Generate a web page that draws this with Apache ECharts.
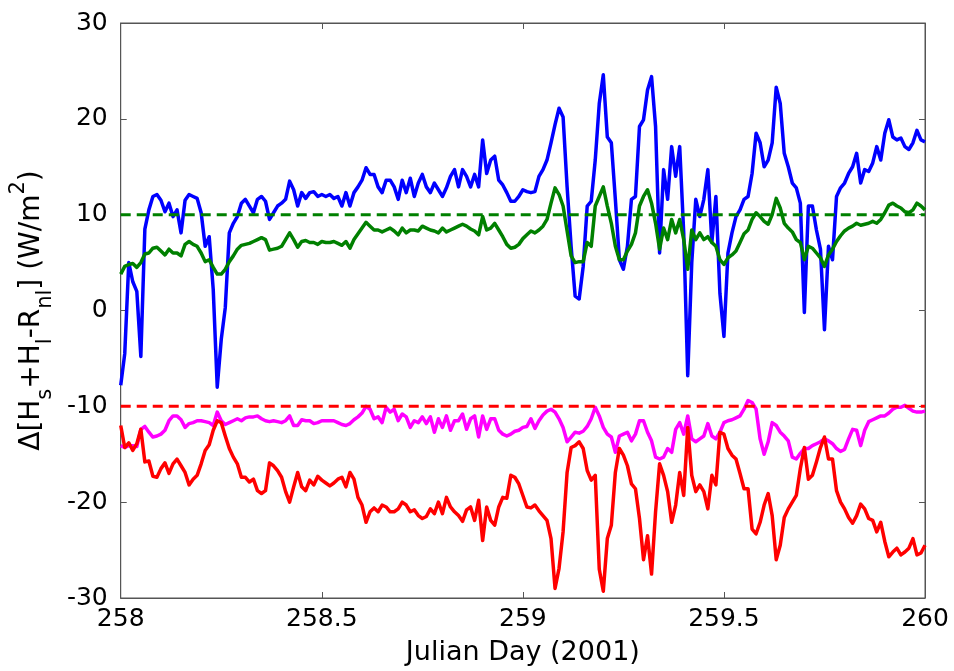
<!DOCTYPE html>
<html>
<head>
<meta charset="utf-8">
<script src="https://cdn.jsdelivr.net/npm/echarts@6/dist/echarts.min.js"></script>
<style>
html,body{margin:0;padding:0;background:#fff;}
#chart{width:954px;height:671px;}
</style>
</head>
<body>
<div id="chart"></div>
<script>
// Julian day sample positions
const days = [
258.00,258.01,258.02,258.03,258.04,258.05,258.06,258.07,258.08,258.09,
258.10,258.11,258.12,258.13,258.14,258.15,258.16,258.17,258.18,258.19,
258.20,258.21,258.22,258.23,258.24,258.25,258.26,258.27,258.28,258.29,
258.30,258.31,258.32,258.33,258.34,258.35,258.36,258.37,258.38,258.39,
258.40,258.41,258.42,258.43,258.44,258.45,258.46,258.47,258.48,258.49,
258.50,258.51,258.52,258.53,258.54,258.55,258.56,258.57,258.58,258.59,
258.60,258.61,258.62,258.63,258.64,258.65,258.66,258.67,258.68,258.69,
258.70,258.71,258.72,258.73,258.74,258.75,258.76,258.77,258.78,258.79,
258.80,258.81,258.82,258.83,258.84,258.85,258.86,258.87,258.88,258.89,
258.90,258.91,258.92,258.93,258.94,258.95,258.96,258.97,258.98,258.99,
259.00,
259.01,259.02,259.03,259.04,259.05,259.06,259.07,259.08,259.09,259.10,
259.11,259.12,259.13,259.14,259.15,259.16,259.17,259.18,259.19,259.20,
259.21,259.22,259.23,259.24,259.25,259.26,259.27,259.28,259.29,259.30,
259.31,259.32,259.33,259.34,259.35,259.36,259.37,259.38,259.39,259.40,
259.41,259.42,259.43,259.44,259.45,259.46,259.47,259.48,259.49,259.50,
259.51,259.52,259.53,259.54,259.55,259.56,259.57,259.58,259.59,259.60,
259.61,259.62,259.63,259.64,259.65,259.66,259.67,259.68,259.69,259.70,
259.71,259.72,259.73,259.74,259.75,259.76,259.77,259.78,259.79,259.80,
259.81,259.82,259.83,259.84,259.85,259.86,259.87,259.88,259.89,259.90,
259.91,259.92,259.93,259.94,259.95,259.96,259.97,259.98,259.99,260.00
];

// blue series
const blueVals = [
-7.8,-4.5,5.0,3.0,2.0,-4.8,8.5,10.5,11.9,12.1,
11.5,10.3,11.2,9.8,10.5,8.1,11.5,12.1,11.9,11.7,
10.2,6.7,7.7,2.2,-8.0,-3.0,0.3,8.1,9.1,9.8,
11.2,11.6,10.9,10.2,11.6,11.9,11.4,9.5,10.2,10.9,
11.2,11.6,13.5,12.6,10.9,12.3,11.7,12.3,12.4,11.9,
12.1,11.9,12.1,11.7,11.9,10.9,12.3,10.9,12.3,12.9,
13.6,14.9,14.2,14.2,12.9,12.3,13.6,13.6,12.9,11.6,
13.6,12.3,13.8,11.9,13.3,14.2,12.9,12.3,13.3,12.6,
11.9,12.8,14.0,14.7,12.9,14.7,14.0,12.9,14.2,12.9,
17.8,14.3,15.7,16.1,13.6,13.1,12.3,11.4,11.4,11.9,
12.6,
12.4,12.3,12.4,14.0,14.7,15.7,17.5,19.4,21.1,20.2,
12.9,6.7,1.5,1.2,4.6,10.9,11.4,15.7,21.6,24.6,
18.1,17.5,11.6,5.3,4.3,6.7,11.6,11.9,19.2,19.9,
23.0,24.4,19.2,6.0,14.7,11.6,17.1,14.0,17.1,8.1,
-6.8,5.0,11.6,9.8,11.6,14.7,7.1,11.9,1.8,-2.7,
6.0,8.1,9.8,10.5,11.6,11.9,14.3,18.5,17.5,15.0,
15.7,17.5,23.3,21.6,16.4,15.0,13.3,12.8,11.2,-0.2,
10.9,10.9,8.4,6.4,-2.0,6.7,5.3,11.9,12.8,13.3,
14.3,15.0,16.4,13.3,14.7,14.5,15.4,17.1,15.7,18.5,
19.9,18.1,17.8,18.0,17.1,16.8,17.5,18.8,17.8,17.6
];

// green series
const greenVals = [
3.8,4.6,4.8,4.9,4.5,5.0,5.9,6.0,6.5,6.6,
6.2,5.8,6.4,6.0,6.0,5.7,6.9,7.2,6.9,6.7,
6.0,5.1,5.3,4.5,3.8,3.8,4.3,5.1,5.7,6.4,
6.8,6.9,7.0,7.2,7.4,7.6,7.4,6.3,6.4,6.5,
6.7,7.4,8.1,7.4,6.6,7.2,7.3,7.1,7.1,6.9,
7.2,7.1,7.1,7.2,7.0,6.8,7.2,6.5,7.4,8.0,
8.6,9.2,8.8,8.4,8.4,8.2,8.4,8.6,8.3,7.9,
8.6,8.1,8.4,8.4,8.3,8.8,8.6,8.4,8.3,8.1,
8.6,8.2,8.4,8.6,8.8,9.0,8.8,8.5,8.3,7.9,
9.8,8.4,8.6,9.1,8.4,7.7,6.9,6.5,6.6,6.9,
7.5,
7.9,8.3,8.1,8.4,8.8,9.5,11.2,12.8,12.1,10.9,
8.3,5.7,5.0,5.1,5.1,7.1,6.7,10.9,11.9,12.9,
10.9,9.1,6.7,5.3,5.3,6.2,6.9,8.1,10.9,11.9,
12.6,11.2,9.1,6.4,8.6,7.4,9.5,8.1,9.5,7.4,
4.3,8.4,7.4,8.1,7.4,7.7,7.1,6.7,5.3,4.8,
5.5,5.8,6.2,7.1,8.0,8.4,9.5,10.2,9.8,9.3,
9.0,10.0,11.7,10.7,9.1,8.6,8.2,7.4,7.1,5.3,
6.7,6.5,6.0,5.5,4.6,5.8,6.4,7.2,7.8,8.3,
8.6,8.8,9.1,8.9,9.0,9.1,9.3,9.1,9.5,10.2,
11.0,11.2,10.9,10.7,10.3,10.2,10.5,11.2,10.9,10.5
];

// magenta series
const magentaVals = [
-14.1,-14.3,-14.1,-14.1,-14.2,-12.4,-12.1,-12.7,-13.2,-13.1,
-12.9,-12.5,-11.5,-11.0,-11.0,-11.4,-12.2,-11.8,-11.7,-11.5,
-11.5,-11.6,-11.7,-12.0,-10.6,-11.5,-11.9,-11.7,-11.5,-11.3,
-11.5,-11.2,-11.1,-11.1,-11.0,-11.3,-11.5,-11.6,-11.5,-11.6,
-11.7,-11.5,-11.0,-12.0,-12.0,-11.4,-11.5,-11.5,-11.8,-11.7,
-11.5,-11.5,-11.5,-11.5,-11.7,-11.9,-12.0,-11.8,-11.4,-11.1,
-10.7,-10.0,-10.3,-11.3,-11.1,-11.7,-10.1,-10.6,-10.3,-11.5,
-10.8,-11.1,-12.2,-11.5,-11.7,-11.1,-11.8,-11.1,-12.7,-11.3,
-12.2,-11.0,-12.5,-11.5,-11.5,-10.8,-12.4,-11.3,-11.0,-13.2,
-11.0,-12.4,-11.3,-11.3,-12.5,-12.9,-13.1,-12.9,-12.6,-12.5,
-12.2,
-12.1,-11.3,-12.3,-11.5,-10.9,-10.5,-10.3,-10.6,-11.3,-12.2,
-13.7,-13.2,-12.7,-12.8,-12.6,-12.1,-11.3,-10.1,-11.0,-12.2,
-12.9,-13.2,-14.8,-13.1,-12.9,-12.7,-13.6,-12.9,-11.5,-11.5,
-12.7,-13.6,-15.3,-15.5,-15.3,-14.4,-14.8,-12.4,-11.7,-12.9,
-11.0,-13.4,-13.7,-13.4,-13.1,-11.8,-13.1,-13.4,-12.7,-11.7,
-11.5,-11.4,-11.2,-11.0,-10.3,-9.4,-9.6,-10.3,-13.4,-15.0,
-13.7,-11.7,-12.0,-12.7,-13.1,-13.6,-15.3,-15.5,-14.9,-14.4,
-14.4,-14.1,-13.9,-13.7,-13.4,-13.6,-13.9,-14.4,-14.7,-14.5,
-13.4,-12.4,-12.5,-14.1,-12.5,-11.6,-11.4,-11.2,-11.0,-11.0,
-10.7,-10.3,-10.1,-10.1,-9.9,-10.2,-10.5,-10.6,-10.6,-10.5
];

// red series
const redVals = [
-12.0,-14.3,-13.8,-14.6,-13.9,-12.4,-15.8,-15.7,-17.3,-17.4,
-16.5,-15.9,-17.0,-16.0,-15.5,-16.2,-16.9,-18.2,-17.6,-17.2,
-16.0,-14.6,-14.0,-12.5,-11.5,-11.7,-13.1,-14.4,-15.3,-16.0,
-17.4,-17.4,-17.9,-17.6,-18.8,-19.1,-18.8,-15.9,-16.2,-16.7,
-17.4,-18.9,-20.0,-18.4,-16.9,-18.4,-18.8,-17.7,-18.2,-17.3,
-17.7,-18.0,-18.3,-18.0,-17.6,-17.4,-18.4,-16.9,-17.6,-19.5,
-20.3,-22.1,-21.0,-20.6,-21.0,-20.3,-20.5,-21.0,-21.0,-20.7,
-20.0,-20.3,-21.0,-20.8,-21.4,-21.7,-21.5,-20.7,-21.2,-20.0,
-21.2,-19.5,-20.5,-21.0,-21.4,-22.0,-20.8,-20.5,-21.9,-19.8,
-24.0,-20.5,-21.9,-22.4,-20.5,-19.5,-19.6,-17.2,-17.4,-18.1,
-19.3,
-20.5,-20.6,-20.3,-20.9,-21.4,-21.9,-23.8,-29.0,-26.9,-23.1,
-16.9,-14.3,-14.1,-13.7,-14.4,-16.7,-17.7,-17.2,-27.0,-29.3,
-23.8,-22.4,-16.9,-14.4,-15.1,-16.2,-18.1,-18.6,-21.7,-26.0,
-23.5,-27.5,-21.0,-16.0,-17.2,-18.9,-22.1,-20.3,-16.9,-19.3,
-12.2,-17.2,-18.9,-18.2,-18.9,-20.7,-17.2,-18.2,-12.7,-12.9,
-14.4,-15.1,-15.5,-17.0,-18.6,-18.6,-22.8,-23.3,-22.1,-20.3,
-19.1,-21.4,-26.0,-24.5,-21.6,-20.7,-20.0,-19.3,-16.5,-14.3,
-17.6,-17.2,-15.8,-14.3,-13.2,-15.5,-15.5,-18.8,-20.0,-20.7,
-21.6,-22.2,-21.4,-20.2,-20.7,-21.7,-21.9,-23.1,-22.1,-24.1,
-25.7,-25.2,-24.8,-25.5,-25.2,-24.8,-23.8,-25.5,-25.3,-24.5
];

// reference (dashed) lines
const refDays = [258, 260];
const greenRef = [10, 10];
const redRef = [-10, -10];

// axis ticks
const xTicks = [258, 258.5, 259, 259.5, 260];
const yTicks = [-30, -20, -10, 0, 10, 20, 30];

const pair = (xs, ys) => xs.map((x, i) => [x, ys[i]]);

const FONT = '"DejaVu Sans", "Liberation Sans", Arial, sans-serif';
const axisCol = '#555555';

const chart = echarts.init(document.getElementById('chart'), null, {renderer: 'canvas'});

function solid(name, vals, color) {
  return {
    name: name, type: 'line', data: pair(days, vals),
    showSymbol: false, symbol: 'none', smooth: false,
    lineStyle: {color: color, width: 3.5, join: 'round'},
    itemStyle: {color: color},
    animation: false, silent: true
  };
}
function dashed(name, vals, color) {
  return {
    name: name, type: 'line', data: pair(refDays, vals),
    showSymbol: false, symbol: 'none',
    lineStyle: {color: color, width: 3, type: [10, 6]},
    itemStyle: {color: color},
    animation: false, silent: true, z: 5
  };
}

const option = {
  backgroundColor: '#ffffff',
  animation: false,
  grid: {left: 118, right: 29, top: 23, bottom: 71, show: true, borderColor: axisCol, borderWidth: 1, backgroundColor: 'transparent'},
  xAxis: [{
    type: 'value', min: xTicks[0], max: xTicks[xTicks.length - 1], interval: 0.5,
    axisLine: {show: true, onZero: false, lineStyle: {color: axisCol, width: 1}},
    axisTick: {show: true, inside: true, length: 6, lineStyle: {color: axisCol}},
    axisLabel: {color: '#000', fontSize: 25, fontFamily: FONT, margin: 9,
      formatter: v => xTicks.includes(v) ? String(v) : ''},
    splitLine: {show: false},
    name: 'Julian Day (2001)', nameLocation: 'middle', nameGap: 41,
    nameTextStyle: {color: '#000', fontSize: 27, fontFamily: FONT}
  }, {
    type: 'value', position: 'top', min: xTicks[0], max: xTicks[xTicks.length - 1], interval: 0.5,
    axisLine: {show: true, onZero: false, lineStyle: {color: axisCol, width: 1}},
    axisTick: {show: true, inside: true, length: 6, lineStyle: {color: axisCol}},
    axisLabel: {show: false}, splitLine: {show: false}
  }],
  yAxis: [{
    type: 'value', min: yTicks[0], max: yTicks[yTicks.length - 1], interval: 10,
    axisLine: {show: true, onZero: false, lineStyle: {color: axisCol, width: 1}},
    axisTick: {show: true, inside: true, length: 6, lineStyle: {color: axisCol}},
    axisLabel: {color: '#000', fontSize: 25, fontFamily: FONT, margin: 13},
    splitLine: {show: false},
    name: '{n|Δ[H}{s|s}{n|+H}{s|l}{n|-R}{s|nl}{n|] (W/m}{p|2}{n|)}',
    nameLocation: 'middle', nameRotate: 90, nameGap: 55,
    nameTextStyle: {
      color: '#000', fontFamily: FONT,
      rich: {
        n: {fontSize: 28, fontFamily: FONT, color: '#000', lineHeight: 48, verticalAlign: 'middle'},
        s: {fontSize: 21, fontFamily: FONT, color: '#000', lineHeight: 48, verticalAlign: 'bottom'},
        p: {fontSize: 21, fontFamily: FONT, color: '#000', lineHeight: 48, verticalAlign: 'top'}
      }
    }
  }, {
    type: 'value', position: 'right', min: yTicks[0], max: yTicks[yTicks.length - 1], interval: 10,
    axisLine: {show: true, onZero: false, lineStyle: {color: axisCol, width: 1}},
    axisTick: {show: true, inside: true, length: 6, lineStyle: {color: axisCol}},
    axisLabel: {show: false}, splitLine: {show: false}
  }],
  series: [
    solid('blue', blueVals, '#0000FF'),
    solid('green', greenVals, '#008000'),
    solid('magenta', magentaVals, '#FF00FF'),
    solid('red', redVals, '#FF0000'),
    dashed('green ref', greenRef, '#008000'),
    dashed('red ref', redRef, '#FF0000')
  ]
};
chart.setOption(option);
</script>
</body>
</html>
